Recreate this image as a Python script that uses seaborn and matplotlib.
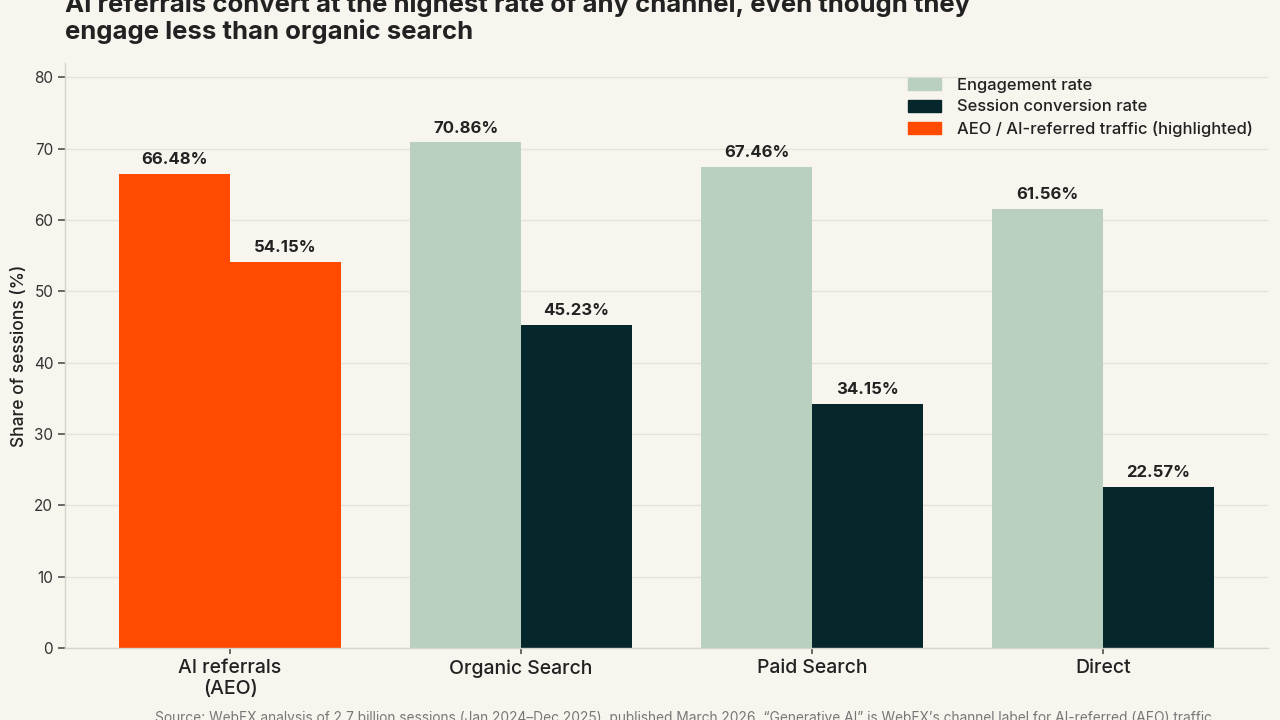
import pandas as pd
import seaborn as sns
import matplotlib.pyplot as plt
from matplotlib.patches import Patch

# ----------------------------------------------------------------------------
# data
# ----------------------------------------------------------------------------
channels = ["AI referrals\n(AEO)", "Organic Search", "Paid Search", "Direct"]
engagement_rate = [66.48, 70.86, 67.46, 61.56]
conversion_rate = [54.15, 45.23, 34.15, 22.57]
metric_names = ["Engagement rate", "Session conversion rate"]
highlight_label = "AEO / AI-referred traffic (highlighted)"

title = ("AI referrals convert at the highest rate of any channel, even though they\n"
         "engage less than organic search")
source = ("Source: WebFX analysis of 2.7 billion sessions (Jan 2024\u2013Dec 2025), published March 2026. "
          "\u201cGenerative AI\u201d is WebFX\u2019s channel label for AI-referred (AEO) traffic.")

df = pd.DataFrame({
    "Channel": channels * 2,
    "Metric": [metric_names[0]] * 4 + [metric_names[1]] * 4,
    "Value": engagement_rate + conversion_rate,
})

# ----------------------------------------------------------------------------
# style
# ----------------------------------------------------------------------------
bg = "#F7F5EE"
sage = "#B9CFC0"
dark = "#05262A"
orange = "#FF4A00"
ink = "#222222"

sns.set_theme(style="white")
plt.rcParams["font.family"] = ["Inter", "DejaVu Sans"]

fig = plt.figure(figsize=(12.8, 7.2), dpi=100, facecolor=bg)
ax = fig.add_axes([0.0508, 0.1, 0.9398, 0.8125])
ax.set_facecolor(bg)

sns.barplot(data=df, x="Channel", y="Value", hue="Metric", palette=[sage, dark],
            width=0.76, gap=0, saturation=1, linewidth=0, ax=ax, legend=False, zorder=2)

# highlight the AI referral group in orange
for container in ax.containers:
    container.patches[0].set_facecolor(orange)

# value labels
for container in ax.containers:
    ax.bar_label(container, labels=[f"{v:.2f}%" for v in container.datavalues],
                 padding=5, fontsize=12, fontweight="bold", color=ink)

ax.set_ylim(0, 82)
ax.set_xlim(-0.567, 3.567)
ax.set_yticks(range(0, 81, 10))
ax.grid(axis="y", color="#E6E3DA", linewidth=1, zorder=0)
ax.set_axisbelow(True)

for side in ["top", "right"]:
    ax.spines[side].set_visible(False)
for side in ["left", "bottom"]:
    ax.spines[side].set_color("#D6D3CA")
    ax.spines[side].set_linewidth(1)

ax.tick_params(axis="y", left=True, length=5, color="#555555", labelsize=11, labelcolor="#333333")
ax.tick_params(axis="x", bottom=True, length=4, color="#555555", labelsize=14, labelcolor=ink, pad=4)
for lbl in ax.get_xticklabels():
    lbl.set_fontweight("medium")
ax.set_xlabel("")
ax.set_ylabel("Share of sessions (%)", fontsize=12.5, color=ink, fontweight="medium")
ax.yaxis.set_label_coords(-0.031, 0.5)

handles = [Patch(color=sage, label=metric_names[0]),
           Patch(color=dark, label=metric_names[1]),
           Patch(color=orange, label=highlight_label)]
leg = ax.legend(handles=handles, loc="upper right", frameon=False, fontsize=11.9,
                bbox_to_anchor=(1.0, 1.0), handlelength=2.0, handleheight=0.75,
                labelspacing=0.4, handletextpad=1.0)
for t in leg.get_texts():
    t.set_color(ink)
    t.set_fontweight("medium")

fig.text(0.0508, 1 - 44 / 720, title, ha="left", va="bottom", fontsize=18.5,
         fontweight="bold", color=ink, linespacing=1.1)
fig.text(0.121, 1 - 711 / 720, source, ha="left", va="top", fontsize=9.9, color="#777777")

fig.savefig("out.png", dpi=100, facecolor=bg)
